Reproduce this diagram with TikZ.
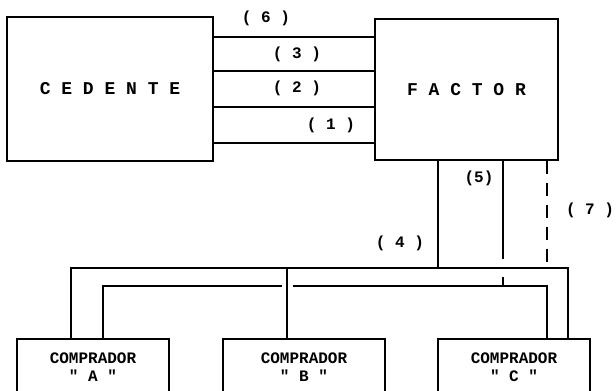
\documentclass[tikz,border=0pt]{standalone}
\usepackage{fontspec}
\setmonofont{Liberation Mono}
\usetikzlibrary{positioning}

\tikzset{
  box/.style={draw, line width=1.4pt, inner sep=0pt, font=\ttfamily\bfseries\fontsize{18}{18}\selectfont},
  buyer/.style={box, minimum width=152pt, minimum height=56pt, align=center, font=\ttfamily\bfseries\fontsize{16}{18}\selectfont},
  num/.style={font=\ttfamily\bfseries\fontsize{16}{16}\selectfont, inner sep=1pt},
  link/.style={line width=1.4pt},
  flujo7/.style={link, dash pattern=on 13pt off 9pt}
}

\begin{document}
\begin{tikzpicture}[x=1pt, y=-1pt]
    \useasboundingbox (0,0) rectangle (616,391);
    \clip (0,0) rectangle (616,391);

    \node[box, minimum width=206pt, minimum height=144pt] (cedente) at (110,89) {C E D E N T E};
    \node[box, minimum width=183pt, minimum height=141pt] (factor) at (466.5,89.5) {F A C T O R};

    \node[buyer] (compA) at (93,367) {COMPRADOR\\" A "};
    \node[buyer, minimum width=162pt] (compB) at (304,367) {COMPRADOR\\" B "};
    \node[buyer] (compC) at (514,367) {COMPRADOR\\" C "};

    % lineas entre cedente y factor
    \foreach \y in {37,71,107,143} {
        \coordinate (h) at (0,\y);
        \draw[link] (cedente.east |- h) -- (factor.west |- h);
    }
    \node[num] (n6) at (266,18) {( 6 )};
    \node[num] (n3) at (297,54) {( 3 )};
    \node[num] (n2) at (297,88) {( 2 )};
    \node[num] (n1) at (331,125) {( 1 )};

    % bus hacia los compradores
    \coordinate (oA) at (71,268);
    \coordinate (oB) at (287,268);
    \coordinate (oC) at (568,268);
    \coordinate (iA) at (103,286);
    \coordinate (iC) at (547,286);
    \coordinate (gapL) at (282,286);
    \coordinate (gapR) at (293,286);
    \coordinate (f4) at (438,268);
    \coordinate (f5) at (503,286);
    \coordinate (f5a) at (503,259);
    \coordinate (f5b) at (503,277);
    \coordinate (f7) at (547,268);

    \draw[link] (compA.north -| oA) -- (oA) -- (oC) -- (compC.north -| oC);
    \draw[link] (compA.north -| iA) -- (iA) -- (gapL);
    \draw[link] (gapR) -- (iC) -- (compC.north -| iC);
    \draw[link] (oB) -- (compB.north -| oB);
    \draw[link] (factor.south -| f4) -- (f4);
    \draw[link] (factor.south -| f5) -- (f5a);
    \draw[link] (f5b) -- (f5);
    \draw[flujo7] (factor.south -| f7) -- (f7);

    \node[num] (n4) at (400,243) {( 4 )};
    \node[num] (n5) at (479,178) {(5)};
    \node[num] (n7) at (590,210) {( 7 )};
\end{tikzpicture}
\end{document}
